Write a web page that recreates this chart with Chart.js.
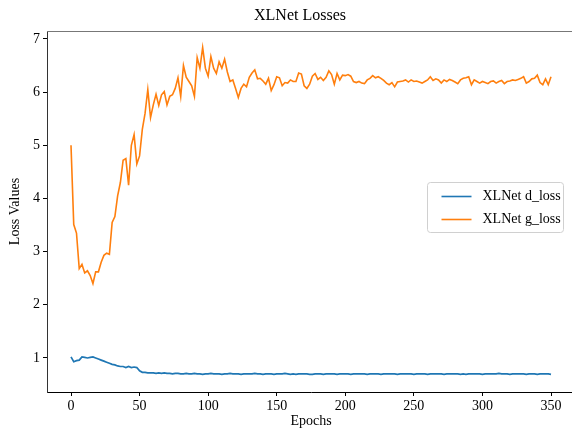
<!DOCTYPE html>
<html>
<head>
<meta charset="utf-8">
<script src="https://cdn.jsdelivr.net/npm/chart.js@4"></script>
<style>
  html, body { margin: 0; padding: 0; background: #fff; overflow: hidden; }
  #wrap { width: 572px; height: 430px; overflow: hidden; }
</style>
</head>
<body>
<div id="wrap"><canvas id="myLosses" width="575" height="430"></canvas></div>
<script>
var epochs = [0,2,4,6,8,10,12,14,16,18,20,22,24,26,28,30,32,34,36,38,40,42,44,46,48,50,52,54,56,58,60,62,64,66,68,70,
  72,74,76,78,80,82,84,86,88,90,92,94,96,98,100,102,104,106,108,110,112,114,116,118,120,122,124,126,128,130,
  132,134,136,138,140,142,144,146,148,150,152,154,156,158,160,162,164,166,168,170,172,174,176,178,180,182,184,186,188,190,
  192,194,196,198,200,202,204,206,208,210,212,214,216,218,220,222,224,226,228,230,232,234,236,238,240,242,244,246,248,250,
  252,254,256,258,260,262,264,266,268,270,272,274,276,278,280,282,284,286,288,290,292,294,296,298,300,302,304,306,308,310,
  312,314,316,318,320,322,324,326,328,330,332,334,336,338,340,342,344,346,348,350];

var d_loss = [1.02,0.93,0.95,0.96,1.02,1.01,1.00,1.01,1.02,1.00,
  0.98,0.96,0.94,0.92,0.90,0.88,0.87,0.85,0.84,0.84,
  0.82,0.84,0.82,0.83,0.82,0.76,0.73,0.73,0.72,0.72,
  0.72,0.71,0.72,0.71,0.72,0.71,
  0.71,0.70,0.71,0.71,0.70,0.70,0.71,0.70,0.70,0.71,
  0.70,0.70,0.69,0.70,0.70,0.71,0.70,0.70,0.70,0.69,
  0.70,0.70,0.71,0.70,0.70,0.70,0.69,0.70,0.70,0.70,
  0.70,0.71,0.70,0.70,0.69,0.70,0.70,0.70,0.69,0.70,
  0.70,0.70,0.71,0.70,0.69,0.70,0.69,0.70,0.70,0.70,
  0.70,0.69,0.69,0.70,0.70,0.70,0.69,0.70,0.70,0.70,
  0.70,0.69,0.70,0.70,0.70,0.70,0.69,0.70,0.70,0.70,
  0.70,0.70,0.69,0.70,0.70,0.70,0.70,0.69,0.70,0.70,
  0.70,0.70,0.70,0.69,0.70,0.70,0.70,0.70,0.70,0.69,
  0.70,0.70,0.70,0.70,0.69,0.70,0.70,0.70,0.70,0.70,
  0.69,0.70,0.70,0.70,0.70,0.70,0.69,0.70,0.69,0.70,
  0.70,0.70,0.70,0.70,0.69,0.70,0.70,0.70,0.70,0.70,
  0.71,0.70,0.70,0.70,0.69,0.70,0.70,0.70,0.70,0.70,
  0.69,0.70,0.70,0.70,0.69,0.70,0.70,0.70,0.70,0.69];

var g_loss = [5.00,3.51,3.35,2.68,2.76,2.60,2.64,2.55,2.40,2.62,
  2.62,2.80,2.93,2.97,2.95,3.55,3.66,4.05,4.30,4.72,
  4.75,4.25,5.00,5.20,4.65,4.80,5.30,5.60,6.05,5.52,
  5.76,5.96,5.75,5.95,6.01,5.76,5.92,5.95,6.07,6.27,
  5.92,6.50,6.28,6.20,6.12,5.92,6.65,6.45,6.84,6.45,
  6.30,6.67,6.45,6.35,6.57,6.45,6.62,6.38,6.20,6.23,
  6.07,5.90,6.07,6.15,6.10,6.28,6.36,6.42,6.25,6.26,
  6.21,6.15,6.26,6.03,6.14,6.29,6.27,6.12,6.18,6.17,
  6.23,6.20,6.20,6.36,6.34,6.12,6.07,6.15,6.30,6.35,
  6.24,6.28,6.22,6.28,6.40,6.33,6.15,6.35,6.23,6.32,
  6.31,6.33,6.30,6.20,6.18,6.20,6.17,6.16,6.23,6.26,
  6.31,6.27,6.29,6.26,6.22,6.17,6.14,6.18,6.10,6.19,
  6.20,6.21,6.23,6.19,6.23,6.20,6.21,6.19,6.17,6.20,
  6.23,6.29,6.22,6.25,6.23,6.17,6.23,6.20,6.24,6.22,
  6.19,6.16,6.23,6.26,6.27,6.29,6.14,6.23,6.20,6.17,
  6.20,6.18,6.16,6.20,6.21,6.17,6.20,6.22,6.16,6.20,
  6.21,6.23,6.22,6.24,6.26,6.29,6.17,6.20,6.25,6.26,
  6.32,6.18,6.14,6.25,6.14,6.29];

var xTicks = [0, 50, 100, 150, 200, 250, 300, 350];
var yTicks = [1, 2, 3, 4, 5, 6, 7];
var seriesNames = ["XLNet d_loss", "XLNet g_loss"];

var serif = "'Liberation Serif', 'Times New Roman', serif";

function points(vals) {
    var out = [];
    for (let i = 0; i < vals.length; i++) {
        out.push({x: epochs[i], y: vals[i]});
    }
    return out;
}

// title, top frame line and the legend box are drawn by hand
var extras = {
    id: 'extras',
    afterDraw: function(chart) {
        var ctx = chart.ctx;
        var a = chart.chartArea;
        ctx.save();
        ctx.strokeStyle = '#777';
        ctx.lineWidth = 1;
        ctx.beginPath();
        ctx.moveTo(a.left, a.top + 0.5);
        ctx.lineTo(a.right, a.top + 0.5);
        ctx.stroke();

        ctx.fillStyle = '#000';
        ctx.font = '16px ' + serif;
        ctx.textAlign = 'center';
        ctx.textBaseline = 'middle';
        ctx.fillText('XLNet Losses', 300, 16);

        // legend
        var bx = 427.5, by = 182.5, bw = 136, bh = 50;
        ctx.fillStyle = 'rgba(255,255,255,0.85)';
        ctx.strokeStyle = '#d0d0d0';
        ctx.beginPath();
        ctx.roundRect(bx, by, bw, bh, 3);
        ctx.fill();
        ctx.stroke();
        ctx.font = '14px ' + serif;
        ctx.textAlign = 'left';
        chart.data.datasets.forEach(function(ds, i) {
            var yy = by + 14 + i * 23;
            ctx.strokeStyle = ds.borderColor;
            ctx.lineWidth = 1.6;
            ctx.beginPath();
            ctx.moveTo(bx + 14, yy);
            ctx.lineTo(bx + 44, yy);
            ctx.stroke();
            ctx.fillStyle = '#000';
            ctx.fillText(ds.label, bx + 55, yy);
        });
        ctx.restore();
    }
};

new Chart("myLosses", {
    type: "line",
    data: {
        datasets: [
            {label: seriesNames[0], data: points(d_loss), borderColor: '#1f77b4', borderWidth: 1.7, pointRadius: 0, tension: 0},
            {label: seriesNames[1], data: points(g_loss), borderColor: '#ff7f0e', borderWidth: 1.6, pointRadius: 0, tension: 0}
        ]
    },
    options: {
        responsive: false,
        animation: false,
        layout: {padding: {top: 31, right: 0, left: 0, bottom: 0}},
        plugins: {legend: {display: false}, title: {display: false}, tooltip: {enabled: false}},
        scales: {
            x: {
                type: 'linear', min: -17.5, max: 367.5,
                afterBuildTicks: function(s) { s.ticks = xTicks.map(function(v) { return {value: v}; }); },
                afterFit: function(s) { s.height = 38; },
                grid: {display: true, drawOnChartArea: false, drawTicks: true, tickLength: 4, color: '#000'},
                border: {display: true, color: '#000', width: 1},
                ticks: {color: '#000', padding: 2, maxRotation: 0, font: {family: serif, size: 14}},
                title: {display: true, text: 'Epochs', color: '#000', padding: {top: 0, bottom: 0}, font: {family: serif, size: 14}}
            },
            y: {
                min: 0.36, max: 7.15,
                afterBuildTicks: function(s) { s.ticks = yTicks.map(function(v) { return {value: v}; }); },
                afterFit: function(s) { s.width = 47; },
                grid: {display: true, drawOnChartArea: false, drawTicks: true, tickLength: 4, color: '#000'},
                border: {display: true, color: '#333', width: 1},
                ticks: {color: '#000', padding: 3, font: {family: serif, size: 14}},
                title: {display: true, text: 'Loss Values', color: '#000', padding: {top: 7, bottom: 0}, font: {family: serif, size: 14}}
            }
        }
    },
    plugins: [extras]
});
</script>
</body>
</html>
